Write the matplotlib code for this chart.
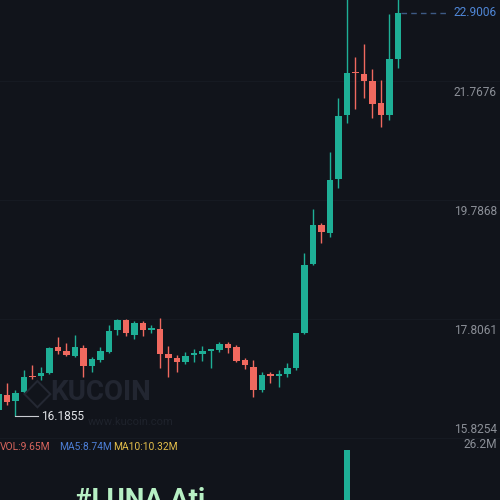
import matplotlib
matplotlib.use('Agg')
import matplotlib.pyplot as plt
from matplotlib.transforms import blended_transform_factory

# ---- data (price in USDT, volume in millions) ----
opens = [16.2915, 16.5412, 16.4413, 16.5911, 16.8574, 16.8574, 16.9073, 17.3401,
         17.2735, 17.1903, 17.3234, 17.0238, 17.1237, 17.2568, 17.6230, 17.7895,
         17.5398, 17.7395, 17.6313, 17.6397, 17.2236, 17.1570, 17.0904, 17.2152,
         17.2236, 17.2735, 17.2901, 17.3900, 17.3401, 17.1237, 17.0072, 16.6244,
         16.8824, 16.8657, 16.8907, 16.9905, 17.5731, 18.7215, 19.3706, 19.2375,
         20.1363, 21.2015, 21.9088, 21.8839, 21.7674, 21.4012, 21.2015, 22.1335]
closes = [16.5578, 16.4246, 16.5744, 16.8407, 16.8407, 16.9073, 17.3234, 17.2735,
          17.2069, 17.3401, 17.0238, 17.1403, 17.2735, 17.6064, 17.7895, 17.5731,
          17.7395, 17.6230, 17.6397, 17.2236, 17.1570, 17.0904, 17.1903, 17.2319,
          17.2652, 17.2985, 17.3983, 17.3234, 17.1071, 17.0322, 16.6244, 16.8740,
          16.8657, 16.8824, 16.9905, 17.5731, 18.7049, 19.3706, 19.2541, 20.1196,
          21.1848, 21.9005, 21.8922, 21.7674, 21.3846, 21.2015, 22.1335, 22.9006]
highs = [16.6410, 16.7409, 16.6244, 16.9573, 17.0405, 17.0072, 17.3401, 17.5065,
         17.4066, 17.5398, 17.3734, 17.1736, 17.3401, 17.7062, 17.8061, 17.8061,
         17.7728, 17.7728, 17.7062, 17.8227, 17.3567, 17.2069, 17.2568, 17.3068,
         17.3567, 17.3068, 17.4233, 17.4233, 17.3734, 17.1570, 17.1237, 16.9240,
         16.9240, 16.9573, 17.0738, 17.5731, 18.9046, 19.6369, 19.4039, 20.5856,
         21.4844, 23.5500, 22.1668, 22.3832, 21.9671, 21.7840, 22.8826, 23.3000]
lows = [16.2582, 16.3747, 16.1855, 16.5744, 16.8075, 16.7908, 16.8907, 17.2236,
        17.1903, 17.1736, 16.8407, 16.9240, 17.0904, 17.2402, 17.5398, 17.5232,
        17.4732, 17.5232, 17.5731, 16.9905, 16.8407, 16.9240, 17.0571, 17.0904,
        17.1071, 16.9905, 17.2568, 17.2402, 17.0904, 16.9739, 16.5079, 16.5911,
        16.7409, 16.6743, 16.8407, 16.9573, 17.5564, 18.7049, 19.0710, 19.1709,
        19.9865, 21.0683, 21.3013, 21.4844, 21.1515, 21.0017, 21.1183, 21.9837]
volumes = [3.1, 2.8, 3.5, 4.2, 2.0, 2.2, 5.1, 3.0, 2.4, 2.9, 4.6, 2.7, 2.5, 5.3,
           3.8, 3.6, 2.9, 2.6, 1.9, 5.8, 4.1, 2.8, 2.2, 1.8, 1.9, 2.3, 2.6, 2.1,
           3.4, 2.5, 6.2, 4.4, 2.0, 2.1, 2.9, 6.8, 12.0, 7.5, 4.0, 8.3,
           11.5, 26.2, 9.5, 7.05, 8.0, 6.5, 12.5, 9.65]
grid_prices = [21.7676, 19.7868, 17.8061, 15.8254]
last_price = 22.9006
low_label = "16.1855"
vol_texts = ["VOL:9.65M", "MA5:8.74M", "MA10:10.32M"]
vol_max_label = "26.2M"

BG = '#11141b'
UP = '#1eaf96'
DN = '#f0695f'
GRID = '#161a22'
TXT = '#8b8f97'

fig = plt.figure(figsize=(5, 5), dpi=100, facecolor=BG)
n = len(opens)
xs = list(range(n))

# price panel: pixel y 0..440
ax = fig.add_axes([0, 60/500, 1, 440/500], facecolor=BG)
ax.set_xlim(0.1765, 59.0)
ax.set_ylim(15.7922, 23.1155)
for s in ax.spines.values():
    s.set_visible(False)
ax.set_xticks([])
ax.set_yticks(grid_prices)
ax.tick_params(left=False, right=False, labelleft=False, labelright=False)
ax.grid(axis='y', color=GRID, lw=0.8)

for i in xs:
    o, c, h, l = opens[i], closes[i], highs[i], lows[i]
    col = UP if c >= o else DN
    ax.vlines(i, l, h, color=col, lw=1.0, zorder=2)
    bh = max(abs(c - o), 0.022)
    ax.bar(i, bh, bottom=min(o, c), width=0.76, color=col, lw=0, zorder=3)

tr = blended_transform_factory(ax.transAxes, ax.transData)
for p in grid_prices[:-1]:
    ax.text(0.994, p - 0.08, f"{p:.4f}", transform=tr, ha='right', va='top',
            color=TXT, fontsize=8.6, family='Roboto')
ax.text(0.994, grid_prices[-1] + 0.03, f"{grid_prices[-1]:.4f}", transform=tr,
        ha='right', va='bottom', color=TXT, fontsize=8.6, family='Roboto')

# last price dashed line
ax.plot([47.3, 53.0], [last_price, last_price], color='#3d5a85', lw=1.0,
        ls=(0, (4, 3)), zorder=1)
ax.text(0.994, last_price, f"{last_price:.4f}", transform=tr, ha='right',
        va='center', color='#4f86d6', fontsize=8.6, family='Roboto')

# low marker
low_i = lows.index(min(lows))
ax.plot([low_i, low_i + 2.7], [min(lows), min(lows)], color='#c9ccd2', lw=0.8)
ax.text(low_i + 3.0, min(lows), low_label, ha='left', va='center',
        color='#e2e4e8', fontsize=8.6, family='Roboto')

# watermark
fig.text(0.045, 1 - 394/500, "\u25C7", fontsize=27, color='#242833',
         ha='left', va='center', zorder=0)
fig.text(0.10, 1 - 393/500, "KUCOIN", fontsize=20, fontweight='bold',
         color='#222631', ha='left', va='center', family='Roboto', zorder=0)
fig.text(0.175, 1 - 422/500, "www.kucoin.com", fontsize=8, color='#1e222b',
         ha='left', va='center', family='Roboto', zorder=0)

# volume panel: 26.2M at pixel y 450, bottom off-canvas
axv = fig.add_axes([0, -0.12, 1, 0.22], facecolor=BG)
axv.set_xlim(0.1765, 59.0)
axv.set_ylim(0, 26.2)
for s in axv.spines.values():
    s.set_visible(False)
axv.set_xticks([])
axv.set_yticks([])
vcols = [UP if closes[i] >= opens[i] else DN for i in xs]
axv.bar(xs, volumes, width=0.6, color=vcols, lw=0)

fig.text(0.994, 1 - 445/500, vol_max_label, ha='right', va='center',
         color=TXT, fontsize=8.6, family='Roboto')
vx = [0.0, 59/500, 113/500]
vc = ['#d9655d', '#4d7fd6', '#e3be4a']
for x, t, c in zip(vx, vol_texts, vc):
    fig.text(x, 1 - 447/500, t, ha='left', va='center', color=c,
             fontsize=7.4, family='Roboto')

# caption overlay (only its top is visible)
fig.text(75/500, 1 - 487/500, "#LUNA Ati", ha='left', va='top',
         color='#b7f0c4', fontsize=20, fontweight='bold', family='Roboto')

fig.savefig('out.png', dpi=100, facecolor=BG)
